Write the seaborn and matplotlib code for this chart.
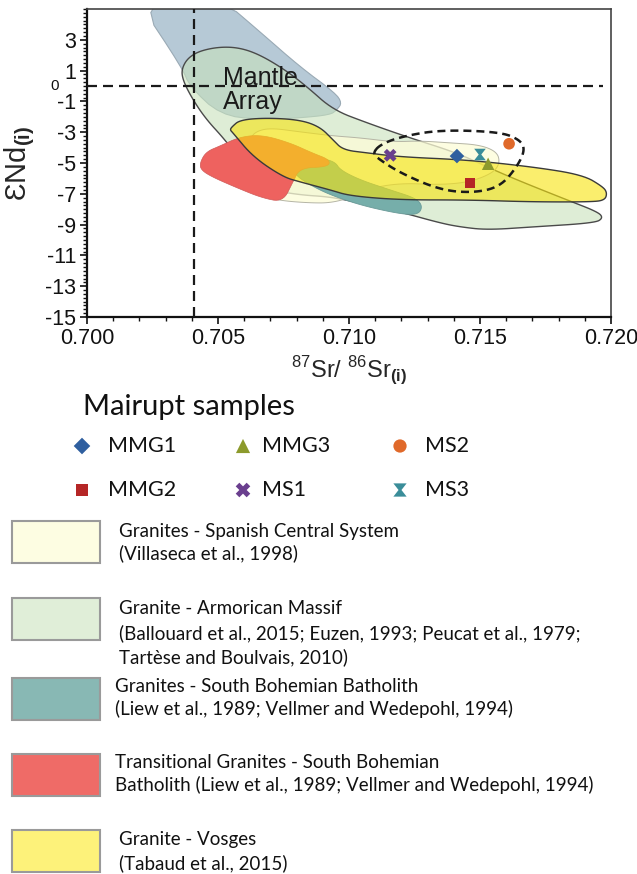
import numpy as np
import pandas as pd
import matplotlib
matplotlib.use("Agg")
import matplotlib.pyplot as plt
import seaborn as sns
from matplotlib.patches import Polygon, Rectangle
from matplotlib.path import Path
from matplotlib.ticker import MultipleLocator, FormatStrFormatter

# ---------------- data ----------------
samples = ["MMG1", "MMG2", "MMG3", "MS1", "MS2", "MS3"]
sr_ratio = [0.71412, 0.71462, 0.71531, 0.71157, 0.71611, 0.71500]
end_value = [-4.55, -6.30, -5.05, -4.50, -3.75, -4.45]
sample_colors = ["#2f5f9f", "#b52626", "#8c9a2c", "#6a3f8e", "#e0692a", "#3a8d99"]

# fields (87Sr/86Sr, eNd) outlines
mantle_sr = [0.70191, 0.70517, 0.70660, 0.70813, 0.70947, 0.70973, 0.70954, 0.70928,
             0.70813, 0.70660, 0.70508, 0.70393, 0.70363]
mantle_nd = [5.6, 5.6, 3.52, 1.245, -0.444, -1.094, -1.549, -1.87,
             -2.07, -2.20, -1.87, -0.05, 1.18]

armorican_sr = [0.70363, 0.70386, 0.70431, 0.70508, 0.70584, 0.70660, 0.70756, 0.70840,
                0.70939, 0.71069, 0.71221, 0.71412, 0.71527, 0.71641, 0.71832, 0.71950,
                0.71970, 0.71939, 0.71702, 0.71527, 0.71424, 0.71347, 0.71195, 0.71042,
                0.70928, 0.70813, 0.70698, 0.70622, 0.70584, 0.70527, 0.70450, 0.70393,
                0.70363]
armorican_nd = [1.18, 1.83, 2.285, 2.545, 2.48, 2.025, 1.05, -0.054,
                -1.549, -2.394, -3.303, -4.343, -5.253, -6.098, -7.397, -8.177,
                -8.567, -8.892, -9.151, -9.346, -9.151, -8.892, -8.177, -7.592,
                -7.2, -7.072, -6.747, -5.968, -4.798, -3.498, -2.069, -0.574,
                0.53]

spanish_sr = [0.70622, 0.70611, 0.70630, 0.70679, 0.70748, 0.70851, 0.70928, 0.71004,
              0.71069, 0.71195, 0.71347, 0.71462, 0.71550, 0.71576, 0.71565, 0.71500,
              0.71386, 0.71271, 0.71168, 0.71042, 0.70939, 0.70813, 0.70698, 0.70641]
spanish_nd = [-3.498, -4.798, -6.422, -7.202, -7.462, -7.592, -7.592, -7.267,
              -6.682, -6.30, -6.42, -6.23, -5.643, -4.993, -4.278, -3.823,
              -3.693, -3.563, -3.628, -3.368, -3.238, -2.978, -2.718, -2.978]

teal_sr = [0.70786, 0.70813, 0.70889, 0.70947, 0.70966, 0.71042, 0.71157, 0.71252,
           0.71279, 0.71271, 0.71233, 0.71157, 0.71042, 0.70928, 0.70851, 0.70794]
teal_nd = [-5.123, -4.798, -4.668, -4.928, -5.448, -6.098, -6.747, -7.267,
           -7.722, -8.242, -8.372, -8.177, -7.722, -7.072, -6.422, -5.773]

red_sr = [0.70431, 0.70454, 0.70508, 0.70584, 0.70668, 0.70775, 0.70859, 0.70928,
          0.70920, 0.70813, 0.70786, 0.70748, 0.70668, 0.70573, 0.70477, 0.70435]
red_nd = [-4.993, -4.278, -3.888, -3.303, -3.173, -3.693, -4.343, -4.798,
          -5.253, -5.318, -6.227, -7.527, -7.267, -6.617, -5.903, -5.448]

vosges_sr = [0.70553, 0.70584, 0.70687, 0.70813, 0.70889, 0.70939, 0.70977, 0.71069,
             0.71195, 0.71450, 0.71702, 0.71893, 0.71970, 0.71985, 0.71977, 0.71931,
             0.71702, 0.71450, 0.71195, 0.71004, 0.70928, 0.70813, 0.70748, 0.70634,
             0.70557, 0.70546]
vosges_nd = [-2.653, -2.199, -2.069, -2.199, -2.653, -3.498, -4.148, -4.343,
             -4.603, -4.798, -5.253, -5.773, -6.552, -6.942, -7.397, -7.527,
             -7.527, -7.397, -7.397, -7.137, -6.747, -6.227, -5.903, -4.603,
             -3.043, -2.848]

envelope_sr = [0.71092, 0.71118, 0.71195, 0.71347, 0.71576, 0.71653, 0.71672, 0.71641,
               0.71576, 0.71473, 0.71347, 0.71195, 0.71107]
envelope_nd = [-4.343, -3.823, -3.303, -2.848, -2.978, -3.498, -4.148, -5.253,
               -6.552, -6.942, -6.747, -5.643, -4.668]

mantle_label = "Mantle\nArray"
bulk_earth_sr = 0.70408
x_ticks = [0.700, 0.705, 0.710, 0.715, 0.720]
y_ticks = [-15, -13, -11, -9, -7, -5, -3, -1, 1, 3]

field_labels = [
    ["Granites - Spanish Central System", "(Villaseca et al., 1998)"],
    ["Granite - Armorican Massif",
     "(Ballouard et al., 2015; Euzen, 1993; Peucat et al., 1979;",
     "Tartèse and Boulvais, 2010)"],
    ["Granites - South Bohemian Batholith",
     "(Liew et al., 1989; Vellmer and Wedepohl, 1994)"],
    ["Transitional Granites - South Bohemian",
     "Batholith (Liew et al., 1989; Vellmer and Wedepohl, 1994)"],
    ["Granite - Vosges", "(Tabaud et al., 2015)"],
]
field_colors = ["#fdfde2", "#e0eed8", "#88b8b4", "#ef6b67", "#fdf27a"]

# ---------------- style ----------------
sns.set_theme(style="ticks")
plt.rcParams["font.family"] = ["Liberation Sans", "DejaVu Sans"]
plt.rcParams["mathtext.fontset"] = "custom"
plt.rcParams["mathtext.rm"] = "Liberation Sans"
plt.rcParams["mathtext.bf"] = "Liberation Sans:bold"
plt.rcParams["axes.unicode_minus"] = False


def smooth(xs, ys, n=3):
    pts = np.column_stack([xs, ys]).astype(float)
    for _ in range(n):
        nxt = np.roll(pts, -1, axis=0)
        q = 0.75 * pts + 0.25 * nxt
        r = 0.25 * pts + 0.75 * nxt
        new = np.empty((2 * len(pts), 2))
        new[0::2] = q
        new[1::2] = r
        pts = new
    return pts


fig = plt.figure(figsize=(6.37, 8.74), dpi=100)
W, H = 637, 874

# legend canvas (pixel coordinates)
lg = fig.add_axes([0, 0, 1, 1], zorder=0)
lg.set_xlim(0, W)
lg.set_ylim(H, 0)
lg.axis("off")

ax = fig.add_axes([87 / W, 1 - 317 / H, 524 / W, 308 / H], zorder=2)
ax.set_xlim(0.700, 0.720)
ax.set_ylim(-15, 5)

# fields
def field(xs, ys, fc, ec, alpha, lw, z, n=3):
    pts = smooth(xs, ys, n)
    ax.add_patch(Polygon(pts, closed=True, facecolor=fc, edgecolor="none",
                         alpha=alpha, zorder=z))
    ax.add_patch(Polygon(pts, closed=True, facecolor="none", edgecolor=ec,
                         lw=lw, zorder=z + 0.05))

field(mantle_sr, mantle_nd, "#b6c9d6", "#9aaab5", 1.0, 0.8, 1, n=2)
field(armorican_sr, armorican_nd, "#c8e2bc", "#4a4a4a", 0.6, 1.0, 2)
field(spanish_sr, spanish_nd, "#fdfdd8", "#b5b5a5", 0.75, 0.7, 3)
field(teal_sr, teal_nd, "#76aeaa", "#6a9a98", 1.0, 0.6, 4)
field(red_sr, red_nd, "#ee625f", "#d05a58", 1.0, 0.5, 5)
field(vosges_sr, vosges_nd, "#f7e40c", "#3a3a3a", 0.6, 1.0, 6)

# reference lines
ax.hlines(0, 0.700, 0.7197, colors="#1a1a1a", linestyles=(0, (4.5, 2.7)), lw=1.6, zorder=7)
ax.vlines(bulk_earth_sr, -15, 5, colors="#1a1a1a", linestyles=(0, (4.5, 2.7)), lw=1.6, zorder=7)

env = smooth(envelope_sr, envelope_nd, 3)
env = np.vstack([env, env[:1]])
ax.plot(env[:, 0], env[:, 1], color="#1a1a1a", lw=1.8, ls=(0, (3.2, 2.0)), zorder=8)

ax.text(0.70520, 1.30, mantle_label, fontsize=18, va="top", ha="left",
        linespacing=1.0, color="#1a1a1a", zorder=9)

# samples
hourglass = Path([(-1, 1), (1, 1), (0.22, 0), (1, -1), (-1, -1), (-0.22, 0), (-1, 1)],
                 [Path.MOVETO, Path.LINETO, Path.LINETO, Path.LINETO, Path.LINETO,
                  Path.LINETO, Path.CLOSEPOLY])
marker_map = {"MMG1": "D", "MMG2": "s", "MMG3": "^", "MS1": "X", "MS2": "o", "MS3": hourglass}
sizes_map = {"MMG1": 55, "MMG2": 55, "MMG3": 80, "MS1": 85, "MS2": 70, "MS3": 70}
palette = dict(zip(samples, sample_colors))
df = pd.DataFrame({"sample": samples, "sr": sr_ratio, "nd": end_value})
for s in samples:
    sns.scatterplot(data=df[df["sample"] == s], x="sr", y="nd", hue="sample",
                    palette=palette, marker=marker_map[s], s=sizes_map[s],
                    edgecolor="none", legend=False, ax=ax, zorder=10)

# axes styling
ax.set_xticks(x_ticks)
ax.xaxis.set_major_formatter(FormatStrFormatter("%.3f"))
ax.xaxis.set_minor_locator(MultipleLocator(0.001))
ax.set_yticks(y_ticks)
ax.yaxis.set_minor_locator(MultipleLocator(0.25))
ax.tick_params(which="major", direction="out", length=5, width=1.2, labelsize=15.5,
               colors="#111111", pad=3)
ax.tick_params(which="minor", direction="out", length=3, width=1.0, colors="#111111")
for side in ["left", "bottom"]:
    ax.spines[side].set_linewidth(1.6)
    ax.spines[side].set_color("#111111")
for side in ["top", "right"]:
    ax.spines[side].set_linewidth(1.2)
    ax.spines[side].set_color("#444444")
ax.text(-0.061, 0, "0", transform=ax.get_yaxis_transform(), fontsize=11,
        ha="center", va="center", color="#111111")
ax.set_xlabel(r"$^{87}$Sr/ $^{86}$Sr$_{\mathbf{(i)}}$", fontsize=17, labelpad=4)
ax.set_ylabel(r"ƐNd$_{\mathbf{(i)}}$", fontsize=21, labelpad=6)
ax.grid(False)

# ---------------- legend ----------------
leg_font = ["Lato", "DejaVu Sans"]
lg.text(83, 407, "Mairupt samples", fontsize=21, family=leg_font, va="center", ha="left",
        color="#111111")
leg_pos = {"MMG1": (82, 446, 108), "MMG3": (243, 446, 262), "MS2": (400, 446, 425),
           "MMG2": (82, 490, 108), "MS1": (243, 490, 262), "MS3": (400, 490, 425)}
for s in samples:
    mx, my, tx = leg_pos[s]
    lg.scatter([mx], [my], marker=marker_map[s], s=sizes_map[s] * 1.3,
               color=palette[s], edgecolor="none")
    lg.text(tx, my, s, fontsize=15.5, family=leg_font, va="center", ha="left",
            color="#111111")

box_tops = [521, 598, 678, 754, 830]
line_ys = [[532, 553], [608, 633, 657], [687, 709], [763, 785], [839, 863]]
text_x = [119, 119, 115, 115, 119]
for top, lines, ys, tx, c in zip(box_tops, field_labels, line_ys, text_x, field_colors):
    lg.add_patch(Rectangle((12, top), 88, 42, facecolor=c, edgecolor="#9a9a9a", lw=1.5))
    for line, y in zip(lines, ys):
        lg.text(tx, y, line, fontsize=13.5, family=leg_font, va="center", ha="left",
                color="#111111")

fig.savefig("out.png", dpi=100)
